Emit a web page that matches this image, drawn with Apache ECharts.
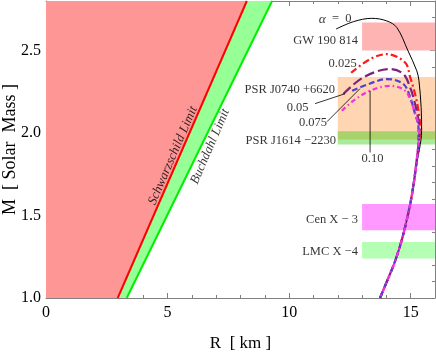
<!DOCTYPE html>
<html><head><meta charset="utf-8">
<script src="https://cdn.jsdelivr.net/npm/echarts@6/dist/echarts.min.js"></script>
<style>html,body{margin:0;padding:0;background:#fff}#c{width:436px;height:354px}</style>
</head><body><div id="c"></div>
<script>
// ---- data ----
const xTickLabels = [0, 5, 10, 15];
const yTickLabels = ['1.0', '1.5', '2.0', '2.5'];

// limit lines (R in km, M in solar masses)
const schwarzschild = [[2.95, 1.0], [8.26, 2.8]];
const buchdahl = [[3.32, 1.0], [9.30, 2.8]];

// common low-mass branch of all M-R curves (from M=1.8 down to 1.0)
const lowerBranch = [[15.22, 1.80], [15.13, 1.70], [15.02, 1.60], [14.88, 1.50], [14.72, 1.40],
  [14.53, 1.30], [14.30, 1.20], [14.02, 1.10], [13.74, 1.00]];
// upper parts of the M-R curves
const alpha0 = [[11.93, 2.630], [12.65, 2.675], [13.40, 2.695], [14.02, 2.679], [14.43, 2.639], [14.89, 2.498],
  [15.25, 2.377], [15.34, 2.317], [15.43, 2.153], [15.45, 2.014], [15.36, 1.90]];
const alpha025 = [[12.55, 2.365], [13.33, 2.448], [14.02, 2.478], [14.77, 2.427], [14.98, 2.337], [15.18, 2.236],
  [15.32, 2.135], [15.39, 2.034], [15.31, 1.90]];
const alpha05 = [[12.23, 2.236], [13.05, 2.337], [14.15, 2.387], [14.70, 2.357], [14.98, 2.276], [15.18, 2.176],
  [15.32, 2.075], [15.36, 2.00], [15.30, 1.90]];
const alpha075 = [[12.59, 2.256], [13.33, 2.300], [14.02, 2.327], [14.70, 2.297], [14.98, 2.216], [15.18, 2.115],
  [15.32, 2.034], [15.30, 1.90]];
const alpha10 = [[12.17, 2.135], [12.65, 2.196], [13.33, 2.256], [14.16, 2.286], [14.77, 2.256], [15.05, 2.176],
  [15.28, 2.075], [15.35, 2.00], [15.29, 1.90]];

// observational bands
const bandNames = ['GW 190 814', 'PSR J0740 +6620', 'PSR J1614 −2230', 'Cen X − 3', 'LMC X −4'];
const bandR = [[13.0, 16], [12.0, 16], [12.0, 16], [13.0, 16], [13.0, 16]];
const bandM = [[2.50, 2.67], [1.96, 2.34], [1.93, 2.01], [1.41, 1.57], [1.24, 1.34]];

// annotations
const curveLabels = ['α = 0', '0.025', '0.05', '0.075', '0.10'];
const curveLabelAt = [[11.89, 2.691], [12.20, 2.422], [10.35, 2.153], [10.98, 2.063], [13.43, 1.845]];
const bandLabelAt = [[12.83, 2.558], [11.89, 2.262], [11.93, 1.954], [12.83, 1.477], [12.83, 1.279]];
const leaders = [
  [[11.07, 2.178], [12.30, 2.238]],
  [[11.56, 2.069], [12.91, 2.268]],
  [[13.33, 1.882], [13.33, 2.256]]
];
const limitLabels = ['Schwarzschild Limit', 'Buchdahl Limit'];
const limitLabelAt = [[5.22, 1.863], [6.75, 1.918]];

// ---- styles ----
const FONT = 'Liberation Serif, Times New Roman, serif';
const AX = '#808080';
const bandColors = ['#FFB4B4', '#FFD5B2', 'rgba(42,205,0,0.4)', '#FF99FF', '#B4FFB4'];
const curveStyles = [
  { color: '#000000', width: 1, type: 'solid' },
  { color: '#FF1A1A', width: 2.2, type: [7, 3, 2, 3] },
  { color: '#80207F', width: 2.2, type: [10, 4] },
  { color: '#5040D0', width: 2.2, type: [6, 3] },
  { color: '#F530E0', width: 2.2, type: [5, 3, 1.5, 3] }
];

const chart = echarts.init(document.getElementById('c'), null, { renderer: 'canvas' });

function polygon(pts, fill, z) {
  return {
    type: 'custom', coordinateSystem: 'cartesian2d', xAxisIndex: 0, yAxisIndex: 0,
    z: z, silent: true, data: [pts[0]],
    renderItem: function (params, api) {
      return { type: 'polygon', shape: { points: pts.map(p => api.coord(p)) }, style: { fill: fill } };
    }
  };
}

function xAx(pos, interval, len, labels, line) {
  return {
    type: 'value', position: pos, min: 0, max: 16, interval: interval,
    axisLine: { show: line, onZero: false, lineStyle: { color: AX, width: 1 } },
    axisTick: { show: true, inside: true, length: len, lineStyle: { color: AX } },
    axisLabel: {
      show: labels, showMaxLabel: false, margin: 7, color: '#000', fontFamily: FONT, fontSize: 16,
      formatter: v => (xTickLabels.indexOf(v) >= 0 ? String(v) : '')
    },
    splitLine: { show: false }
  };
}
function yAx(pos, interval, len, labels, line) {
  return {
    type: 'value', position: pos, min: 1.0, max: 2.8, interval: interval,
    axisLine: { show: line, onZero: false, lineStyle: { color: AX, width: 1 } },
    axisTick: { show: true, inside: true, length: len, lineStyle: { color: AX } },
    axisLabel: {
      show: labels, showMaxLabel: false, margin: 5, color: '#000', fontFamily: FONT, fontSize: 16,
      formatter: v => { const s = v.toFixed(1); return yTickLabels.indexOf(s) >= 0 ? s : ''; }
    },
    splitLine: { show: false }
  };
}

const xAxes = [xAx('bottom', 5, 5, true, true), xAx('bottom', 1, 3, false, false),
  xAx('top', 5, 5, false, true), xAx('top', 1, 3, false, false)];
xAxes[0].name = 'R  [ km ]';
xAxes[0].nameLocation = 'middle';
xAxes[0].nameGap = 37;
xAxes[0].nameMoveOverlap = false;
xAxes[0].nameTextStyle = { fontFamily: FONT, fontSize: 17, color: '#000' };
const yAxes = [yAx('left', 0.5, 5, true, true), yAx('left', 0.1, 3, false, false),
  yAx('right', 0.5, 5, false, true), yAx('right', 0.1, 3, false, false)];
yAxes[0].name = 'M  [ Solar  Mass ]';
yAxes[0].nameLocation = 'middle';
yAxes[0].nameGap = 27;
yAxes[0].nameMoveOverlap = false;
yAxes[0].nameTextStyle = { fontFamily: FONT, fontSize: 18, color: '#000' };

const series = [];
// bands
bandNames.forEach((n, i) => {
  const r = bandR[i], m = bandM[i];
  series.push(polygon([[r[0], m[0]], [r[1], m[0]], [r[1], m[1]], [r[0], m[1]]], bandColors[i], 1));
});
// forbidden regions
series.push(polygon([[0, schwarzschild[0][1]], schwarzschild[0], schwarzschild[1], [0, schwarzschild[1][1]]], '#FF9696', 1));
series.push(polygon([schwarzschild[0], buchdahl[0], buchdahl[1], schwarzschild[1]], '#96FF96', 1));
series.push({ type: 'line', data: schwarzschild, showSymbol: false, silent: true, z: 2,
  lineStyle: { color: '#FF0000', width: 2 } });
series.push({ type: 'line', data: buchdahl, showSymbol: false, silent: true, z: 2,
  lineStyle: { color: '#00EE00', width: 2 } });
// M-R curves
[alpha0, alpha025, alpha05, alpha075, alpha10].forEach((c, i) => {
  const st = curveStyles[i];
  series.push({ type: 'line', data: c.concat(lowerBranch), showSymbol: false, silent: true, z: 3 + i,
    smooth: 0.35, clip: true, lineStyle: { color: st.color, width: st.width, type: st.type } });
});
// leader lines
leaders.forEach(l => series.push({ type: 'line', data: l, showSymbol: false, silent: true, z: 10,
  lineStyle: { color: '#000', width: 0.8 } }));
// text labels
const lblData = [];
curveLabels.forEach((t, i) => lblData.push({ value: curveLabelAt[i],
  label: { position: 'inside', formatter: i === 0 ? '{i|α}  =  0' : t } }));
bandNames.forEach((t, i) => lblData.push({ value: bandLabelAt[i],
  label: { position: 'left', distance: 0, formatter: t } }));
series.push({ type: 'scatter', data: lblData, symbolSize: 0.1, silent: true, z: 11,
  itemStyle: { color: 'rgba(0,0,0,0)' },
  label: { show: true, color: '#000', fontFamily: FONT, fontSize: 12.5,
    rich: { i: { fontStyle: 'italic', fontFamily: FONT, fontSize: 13.5, color: '#000' } } } });
series.push({ type: 'scatter', data: limitLabelAt.map((p, i) => ({ value: p, label: { formatter: limitLabels[i] } })),
  symbolSize: 0.1, silent: true, z: 11, itemStyle: { color: 'rgba(0,0,0,0)' },
  label: { show: true, position: 'inside', rotate: 66.6, color: '#000', fontFamily: FONT,
    fontStyle: 'italic', fontSize: 13 } });

chart.setOption({
  animation: false,
  grid: { left: 46, right: 1, top: 1, bottom: 56, containLabel: false, outerBoundsMode: 'none' },
  xAxis: xAxes, yAxis: yAxes, series: series
});
</script></body></html>
